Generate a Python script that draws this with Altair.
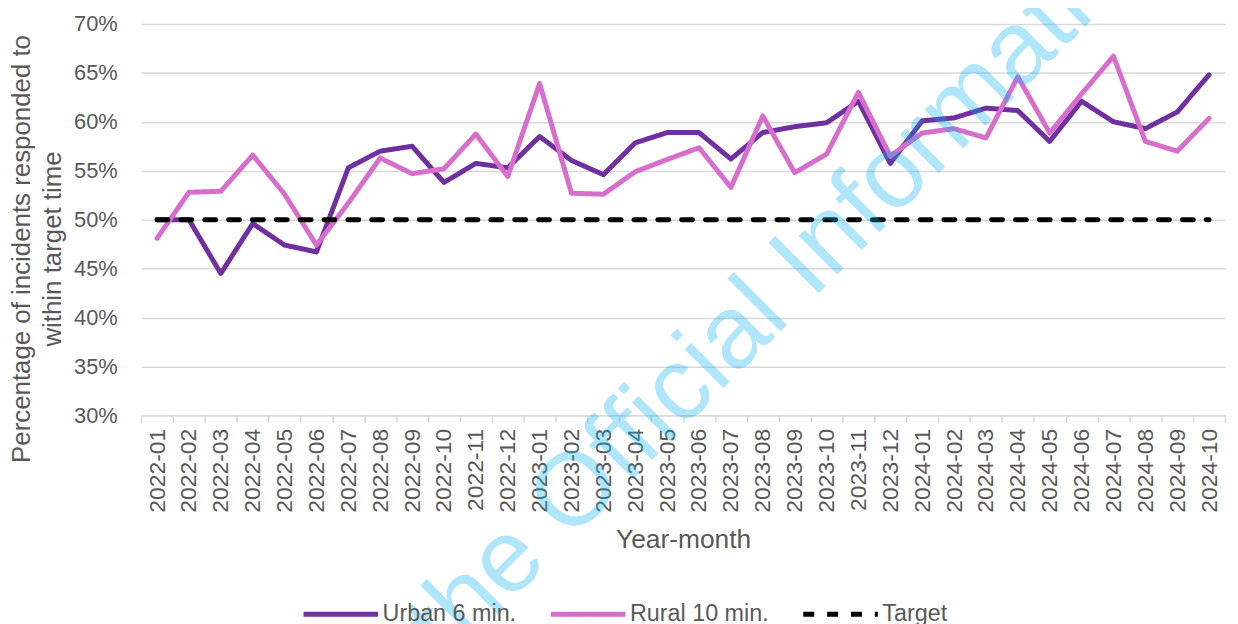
import altair as alt
import pandas as pd

months = [
    "2022-01", "2022-02", "2022-03", "2022-04", "2022-05", "2022-06",
    "2022-07", "2022-08", "2022-09", "2022-10", "2022-11", "2022-12",
    "2023-01", "2023-02", "2023-03", "2023-04", "2023-05", "2023-06",
    "2023-07", "2023-08", "2023-09", "2023-10", "2023-11", "2023-12",
    "2024-01", "2024-02", "2024-03", "2024-04", "2024-05", "2024-06",
    "2024-07", "2024-08", "2024-09", "2024-10",
]
urban = [
    50.0, 50.0, 44.5, 49.6, 47.4, 46.7,
    55.3, 57.0, 57.5, 53.8, 55.75, 55.3,
    58.5, 56.05, 54.6, 57.85, 58.9, 58.9,
    56.2, 58.9, 59.5, 59.9, 62.1, 55.75,
    60.1, 60.4, 61.4, 61.15, 58.0, 62.1,
    60.0, 59.3, 61.0, 64.8,
]
rural = [
    48.1, 52.8, 52.9, 56.6, 52.6, 47.4,
    51.7, 56.3, 54.7, 55.2, 58.75, 54.4,
    63.9, 52.7, 52.6, 54.9, 56.15, 57.35,
    53.3, 60.6, 54.8, 56.7, 63.0, 56.5,
    58.85, 59.3, 58.35, 64.6, 58.85, 62.85,
    66.7, 58.0, 57.0, 60.35,
]
target = [50.0] * len(months)

series_names = ["Urban 6 min.", "Rural 10 min.", "Target"]
series_colors = ["#7030a0", "#d86ecc", "#000000"]
series_dash = [[1, 0], [1, 0], [11, 13]]
y_ticks = [30, 35, 40, 45, 50, 55, 60, 65, 70]
watermark_text = ["the Official Information"]

FONT = "Liberation Sans"
GREY = "#595959"
GRID = "#d9d9d9"

rows = []
for name, vals in [(series_names[0], urban), (series_names[1], rural), (series_names[2], target)]:
    for m, v in zip(months, vals):
        rows.append({"month": m, "series": name, "value": v})
df = pd.DataFrame(rows)

x_enc = alt.X(
    "month:O",
    sort=months,
    bandPosition=0.5,
    scale=alt.Scale(type="band", paddingInner=0, paddingOuter=0),
    axis=alt.Axis(
        title="Year-month",
        titleFont=FONT,
        titleFontSize=26.5,
        titleFontWeight="normal",
        titleColor=GREY,
        titleY=125,
        titleBaseline="middle",
        labelAngle=270,
        labelAlign="right",
        labelBaseline="middle",
        labelFont=FONT,
        labelFontSize=23,
        labelColor=GREY,
        labelPadding=6,
        tickBand="extent",
        tickSize=7,
        tickColor=GRID,
        tickWidth=1.5,
        domainColor=GRID,
        domainWidth=1.5,
        grid=False,
        labelOverlap=False,
    ),
)
y_enc = alt.Y(
    "value:Q",
    scale=alt.Scale(domain=[30, 70], nice=False, zero=False),
    axis=alt.Axis(
        values=y_ticks,
        labelExpr="datum.value + '%'",
        title=["Percentage of incidents responded to", "within target time"],
        titleFont=FONT,
        titleFontSize=26,
        titleFontWeight="normal",
        titleColor=GREY,
        titleLineHeight=31,
        titleX=-120,
        titleY=226,
        titleAngle=270,
        titleBaseline="middle",
        titleAlign="center",
        labelFont=FONT,
        labelFontSize=22,
        labelColor=GREY,
        labelPadding=24,
        ticks=False,
        domain=False,
        grid=True,
        gridColor=GRID,
        gridWidth=1.5,
    ),
)
color_enc = alt.Color(
    "series:N",
    scale=alt.Scale(domain=series_names, range=series_colors),
    legend=alt.Legend(title=None),
)
dash_enc = alt.StrokeDash(
    "series:N",
    scale=alt.Scale(domain=series_names, range=series_dash),
    legend=alt.Legend(title=None),
)

lines = alt.Chart(df).mark_line(strokeWidth=5, strokeJoin="round", strokeCap="round").encode(
    x=x_enc, y=y_enc, color=color_enc, strokeDash=dash_enc, detail="series:N"
)
watermark = alt.Chart(pd.DataFrame({"t": watermark_text})).mark_text(
    angle=315,
    font=FONT,
    fontSize=104,
    color="#00b0f0",
    opacity=0.31,
    align="center",
    baseline="middle",
).encode(text="t:N", x=alt.value(654), y=alt.value(255))

chart = (
    alt.layer(lines, watermark)
    .properties(
        width=1091,
        height=394,
        autosize=alt.AutoSizeParams(type="none"),
        padding={"left": 134, "top": 14, "right": 5, "bottom": 216},
        background="white",
    )
    .configure_view(stroke=None)
    .configure_legend(
        orient="none",
        direction="horizontal",
        legendX=161,
        legendY=554,
        offset=0,
        padding=0,
        symbolType="stroke",
        symbolSize=5625,
        symbolStrokeWidth=5,
        labelFont=FONT,
        labelFontSize=23.5,
        labelColor=GREY,
        labelOffset=2,
        columnPadding=24,
    )
)

chart.save("out.html", embed_options={"renderer": "svg", "actions": False})
